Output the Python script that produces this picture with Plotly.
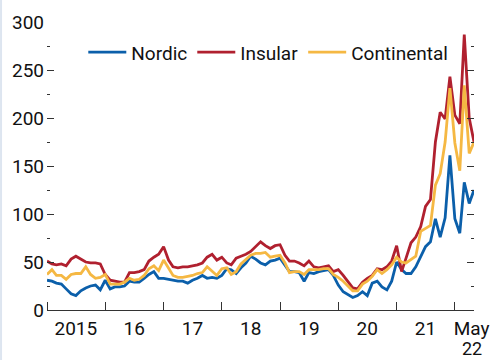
import pandas as pd
import plotly.graph_objects as go

# Monthly index values, January 2015 to May 2022
months = pd.date_range("2015-01-01", periods=89, freq="MS")

nordic = [31, 30, 28, 27, 22, 17, 15, 20, 23, 25, 26, 21,
          31, 22, 24, 24, 25, 30, 29, 29, 33, 37, 40, 33,
          33, 32, 31, 30, 30, 28, 31, 33, 36, 33, 34, 33,
          36, 43, 42, 38, 44, 49, 56, 53, 49, 47, 51, 52,
          54, 47, 40, 40, 39, 30, 39, 38, 40, 41, 42, 36,
          26, 19, 16, 13, 15, 19, 15, 28, 30, 24, 21, 30,
          50, 42, 38, 38, 45, 55, 66, 71, 95, 76, 96, 161,
          95, 80, 133, 111, 125]

insular = [51, 48, 47, 48, 46, 53, 56, 53, 50, 49, 49, 48,
           37, 31, 30, 29, 29, 39, 39, 40, 42, 51, 55, 58,
           66, 52, 45, 44, 45, 45, 46, 47, 49, 55, 58, 52,
           55, 49, 47, 54, 56, 58, 61, 66, 71, 67, 64, 67,
           68, 57, 51, 51, 49, 46, 51, 45, 44, 45, 46, 40,
           42, 36, 30, 23, 22, 29, 33, 36, 43, 42, 45, 51,
           67, 40, 54, 70, 76, 87, 108, 115, 175, 206, 199, 243,
           203, 194, 287, 200, 175]

continental = [37, 42, 36, 36, 32, 37, 38, 38, 45, 37, 33, 34,
               37, 27, 27, 27, 29, 33, 31, 32, 36, 43, 46, 41,
               52, 43, 36, 34, 34, 35, 36, 38, 39, 45, 40, 36,
               43, 44, 37, 40, 48, 53, 57, 59, 59, 60, 55, 56,
               57, 49, 39, 40, 40, 37, 42, 42, 42, 43, 43, 37,
               34, 30, 25, 20, 20, 27, 30, 35, 42, 38, 42, 47,
               55, 50, 49, 53, 56, 82, 85, 88, 130, 142, 175, 231,
               174, 145, 234, 163, 175]

year_label_dates = ["2015-07-01", "2016-07-01", "2017-07-01", "2018-07-01",
                    "2019-07-01", "2020-07-01", "2021-07-01", "2022-04-16"]
year_labels = ["2015", "16", "17", "18", "19", "20", "21", "May"]
last_year_label = "22"

series = [
    ("Nordic", nordic, "#0B5FAA"),
    ("Insular", insular, "#B0202F"),
    ("Continental", continental, "#F5B843"),
]

FONT = "Roboto, Liberation Sans, sans-serif"
AXIS = "#333333"

fig = go.Figure()
for name, values, color in series:
    fig.add_trace(go.Scatter(
        x=months, y=values, name=name, mode="lines",
        line=dict(color=color, width=2.8),
    ))

# invisible trace that carries the right-hand tick marks
fig.add_trace(go.Scatter(x=[months[0]], y=[0], yaxis="y2", showlegend=False,
                         mode="lines", line=dict(width=0), hoverinfo="skip"))

fig.update_layout(
    width=490, height=360,
    margin=dict(l=47, r=16, t=22, b=50),
    paper_bgcolor="white", plot_bgcolor="white",
    font=dict(family=FONT, size=19, color="#111111"),
    showlegend=True,
    legend=dict(orientation="h", x=0.085, y=0.895, xanchor="left", yanchor="middle",
                bgcolor="rgba(0,0,0,0)", font=dict(size=19), itemwidth=38,
                tracegroupgap=0),
    xaxis=dict(
        range=[months[0], months[-1]], automargin=False,
        tickmode="array", tickvals=year_label_dates, ticktext=year_labels,
        ticks="", showgrid=False, zeroline=False, ticklabeloverflow="allow",
        ticklabelstandoff=1,
        showline=True, linecolor=AXIS, linewidth=1.3,
        minor=dict(tick0="2015-01-01", dtick="M12", ticks="inside",
                   ticklen=8, tickwidth=1.3, tickcolor=AXIS, showgrid=False),
    ),
    yaxis=dict(
        range=[0, 300], tickmode="linear", tick0=0, dtick=50, automargin=False,
        ticks="inside", ticklen=7, tickwidth=1.3, tickcolor=AXIS,
        showgrid=False, zeroline=False, showline=False, ticklabelstandoff=2,
        minor=dict(dtick=25, ticks="inside", ticklen=3, tickwidth=1.3,
                   tickcolor=AXIS, showgrid=False),
    ),
    yaxis2=dict(
        range=[0, 300], overlaying="y", side="right", tickmode="linear",
        tick0=0, dtick=50, showticklabels=False, automargin=False,
        ticks="inside", ticklen=7, tickwidth=1.3, tickcolor=AXIS,
        showgrid=False, zeroline=False, showline=False,
        minor=dict(dtick=25, ticks="inside", ticklen=3, tickwidth=1.3,
                   tickcolor=AXIS, showgrid=False),
    ),
)

# second line of the final period label (year under "May")
fig.add_annotation(x=year_label_dates[-1], xref="x", y=-50 / 288, yref="paper",
                   text=last_year_label, showarrow=False, borderpad=0,
                   xanchor="center", yanchor="bottom", font=dict(size=18))

# thin page border on the left edge
fig.add_shape(type="rect", xref="paper", yref="paper",
              x0=-47 / 427.4, x1=-45 / 427.4, y0=-50 / 288, y1=1 + 22 / 288,
              line=dict(width=0), fillcolor="#dde5f0", layer="below")

fig.write_html("out.html")
